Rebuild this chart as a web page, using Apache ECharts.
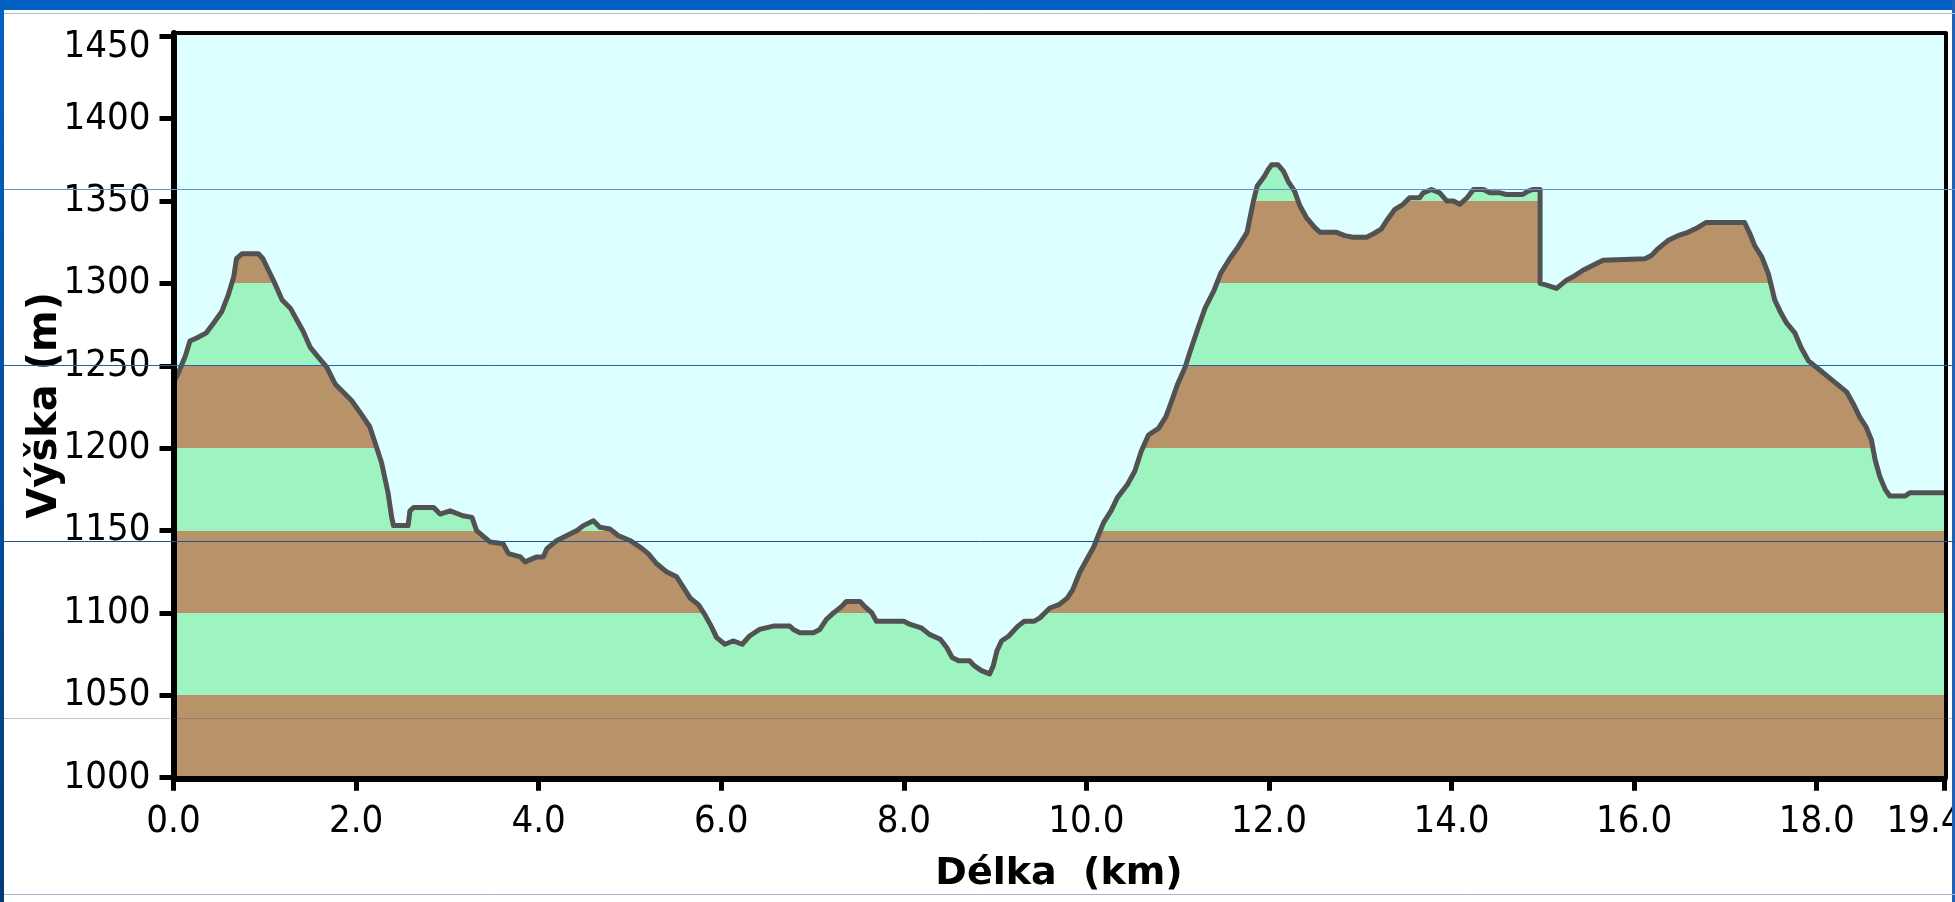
<!DOCTYPE html>
<html>
<head>
<meta charset="utf-8">
<script src="https://cdn.jsdelivr.net/npm/echarts@6/dist/echarts.min.js"></script>
<style>
html,body{margin:0;padding:0;background:#ffffff;}
#c{width:1955px;height:902px;}
</style>
</head>
<body>
<div id="c"></div>
<script>
// Distance along the route (km)
const distanceKm = [
  0,0.04,0.13,0.18,0.26,0.36,0.44,0.53,0.60,0.66,
  0.69,0.75,0.93,0.98,1.04,1.11,1.19,1.28,1.35,1.42,
  1.50,1.59,1.68,1.77,1.86,1.95,2.04,2.15,2.21,2.28,
  2.35,2.39,2.41,2.57,2.59,2.63,2.85,2.92,3.03,3.17,
  3.27,3.32,3.47,3.61,3.67,3.80,3.85,3.98,4.05,4.09,
  4.20,4.31,4.42,4.49,4.60,4.67,4.78,4.87,5.00,5.11,
  5.20,5.29,5.40,5.51,5.58,5.66,5.75,5.82,5.89,5.95,
  6.04,6.13,6.23,6.31,6.42,6.57,6.75,6.79,6.86,7.01,
  7.08,7.15,7.23,7.32,7.37,7.52,7.57,7.65,7.70,8.00,
  8.07,8.19,8.28,8.40,8.47,8.53,8.60,8.72,8.77,8.85,
  8.94,8.98,9.02,9.07,9.15,9.25,9.32,9.43,9.49,9.60,
  9.70,9.79,9.85,9.93,10.00,10.08,10.13,10.19,10.27,10.34,
  10.45,10.53,10.60,10.68,10.79,10.87,10.93,11.00,11.08,11.15,
  11.23,11.30,11.40,11.47,11.57,11.66,11.76,11.80,11.83,11.87,
  11.95,11.99,12.03,12.10,12.16,12.21,12.28,12.34,12.41,12.50,
  12.56,12.74,12.83,12.92,13.07,13.14,13.23,13.30,13.38,13.47,
  13.54,13.65,13.69,13.78,13.87,13.95,14.02,14.09,14.17,14.24,
  14.35,14.42,14.53,14.60,14.78,14.84,14.89,14.97,14.97,15.04,
  15.15,15.26,15.33,15.44,15.55,15.66,16.12,16.19,16.26,16.37,
  16.48,16.59,16.70,16.79,17.21,17.27,17.32,17.40,17.47,17.51,
  17.54,17.60,17.67,17.76,17.83,17.91,18.00,18.11,18.22,18.33,
  18.40,18.47,18.54,18.60,18.64,18.69,18.75,18.80,18.97,19.02,
  19.40
];
// Elevation (m)
const elevationM = [
  1240,1244,1256,1265,1267,1270,1276,1283,1293,1304,
  1315,1318,1318,1315,1308,1300,1290,1285,1278,1271,
  1261,1255,1249,1239,1234,1229,1222,1213,1203,1191,
  1173,1158,1153,1153,1162,1164,1164,1160,1162,1159,
  1158,1150,1143,1142,1136,1134,1131,1134,1134,1139,
  1144,1147,1150,1153,1156,1152,1151,1147,1144,1140,
  1136,1130,1125,1122,1116,1109,1105,1099,1092,1085,
  1081,1083,1081,1086,1090,1092,1092,1090,1088,1088,
  1090,1096,1100,1104,1107,1107,1104,1100,1095,1095,
  1093,1091,1087,1084,1079,1073,1071,1071,1068,1065,
  1063,1068,1077,1083,1086,1092,1095,1095,1097,1103,
  1105,1109,1114,1125,1132,1140,1147,1155,1162,1170,
  1178,1186,1198,1208,1212,1219,1228,1239,1249,1261,
  1274,1285,1296,1306,1315,1322,1331,1342,1350,1359,
  1365,1369,1372,1372,1368,1362,1356,1347,1340,1334,
  1331,1331,1329,1328,1328,1330,1333,1339,1345,1348,
  1352,1352,1355,1357,1355,1350,1350,1348,1352,1357,
  1357,1355,1355,1354,1354,1356,1357,1357,1300,1299,
  1297,1302,1304,1308,1311,1314,1315,1317,1321,1326,
  1329,1331,1334,1337,1337,1330,1323,1316,1306,1297,
  1290,1283,1276,1270,1261,1253,1249,1244,1239,1234,
  1227,1219,1213,1205,1193,1183,1175,1171,1171,1173,
  1173
];
// Axis tick labels
const xTickValues = [0,2,4,6,8,10,12,14,16,18,19.4];
const yTickValues = [1000,1050,1100,1150,1200,1250,1300,1350,1400,1450];
// Elevation bands (50 m) with alternating colours
const bandEdges = [1000,1050,1100,1150,1200,1250,1300,1350,1400,1450];
const bandColors = ['#B8936A','#9DF4C0'];

const BROWN = bandColors[0];
const profile = distanceKm.map((d, i) => [d, elevationM[i]]);
const pieces = [];
for (let i = 0; i < bandEdges.length - 1; i++) {
  pieces.push({ gte: bandEdges[i], lt: bandEdges[i + 1], color: bandColors[i % 2] });
}
const X_LAST = xTickValues[xTickValues.length - 1];
const Y_LAST = yTickValues[yTickValues.length - 1];

const LABEL_FONT = "'Liberation Sans Narrow','DejaVu Sans Condensed','Arial Narrow',sans-serif";
const TITLE_FONT = "'DejaVu Sans',sans-serif";
const LABEL_SIZE = 38;

const chart = echarts.init(document.getElementById('c'), null, { renderer: 'canvas' });

function hline(y, color) {
  return { type: 'line', z: 100, silent: true,
    shape: { x1: 4, y1: y, x2: 1955, y2: y },
    style: { stroke: color, lineWidth: 1 } };
}

chart.setOption({
  animation: false,
  backgroundColor: '#ffffff',
  grid: {
    left: 173.5, right: 10.5, top: 33, bottom: 124.3,
    show: true, backgroundColor: '#DDFFFF', borderWidth: 0,
    containLabel: false, outerBoundsMode: 'none'
  },
  visualMap: {
    type: 'piecewise', show: false, dimension: 1, seriesIndex: 0,
    pieces: pieces, outOfRange: { color: BROWN }
  },
  xAxis: [{
    type: 'value', min: 0, max: 19.4, position: 'bottom', z: 5,
    offset: 1,
    axisLine: { show: true, onZero: false, lineStyle: { color: '#000', width: 6 } },
    axisTick: { show: true, length: 12, customValues: xTickValues, lineStyle: { color: '#000', width: 5 } },
    axisLabel: {
      customValues: xTickValues, margin: 24, color: '#000', fontSize: LABEL_SIZE,
      fontFamily: LABEL_FONT,
      formatter: v => (Math.abs(v - X_LAST) < 1e-9 ? '{r|' + Number(v).toFixed(1) + '}' : Number(v).toFixed(1)),
      rich: { r: { fontSize: LABEL_SIZE, fontFamily: LABEL_FONT, color: '#000', padding: [0, 40, 0, 0] } }
    },
    splitLine: { show: false },
    name: 'Délka  (km)', nameLocation: 'middle', nameGap: 76, nameMoveOverlap: false,
    nameTextStyle: { color: '#000', fontFamily: TITLE_FONT, fontWeight: 'bold', fontSize: 38 }
  }, {
    type: 'value', min: 0, max: 19.4, position: 'top', z: 5,
    axisLine: { show: true, onZero: false, lineStyle: { color: '#000', width: 4 } },
    axisTick: { show: false }, axisLabel: { show: false }, splitLine: { show: false }
  }],
  yAxis: [{
    type: 'value', min: 1000, max: 1452, position: 'left', z: 5,
    axisLine: { show: true, onZero: false, lineStyle: { color: '#000', width: 6 } },
    axisTick: { show: true, length: 14, customValues: yTickValues, lineStyle: { color: '#000', width: 5 } },
    axisLabel: {
      customValues: yTickValues, margin: 23, color: '#000', fontSize: LABEL_SIZE,
      fontFamily: LABEL_FONT, verticalAlignMaxLabel: 'top',
      formatter: v => (v === Y_LAST ? '{t|' + v + '}' : String(v)),
      rich: { t: { fontSize: LABEL_SIZE, fontFamily: LABEL_FONT, color: '#000', lineHeight: 22 } }
    },
    splitLine: { show: false },
    name: 'Výška (m)', nameLocation: 'middle', nameGap: 108, nameMoveOverlap: false,
    nameTextStyle: { color: '#000', fontFamily: TITLE_FONT, fontWeight: 'bold', fontSize: 40 }
  }, {
    type: 'value', min: 1000, max: 1452, position: 'right', z: 5, offset: 1.5,
    axisLine: { show: true, onZero: false, lineStyle: { color: '#000', width: 4 } },
    axisTick: { show: false }, axisLabel: { show: false }, splitLine: { show: false }
  }],
  series: [{
    type: 'line', xAxisIndex: 0, yAxisIndex: 0,
    data: profile, showSymbol: false, symbol: 'none', silent: true,
    lineStyle: { color: '#525252', width: 5, join: 'round' },
    areaStyle: { opacity: 1, origin: 'start' },
    z: 2
  }],
  graphic: [
    { type: 'rect', z: 100, silent: true, shape: { x: 0, y: 0, width: 1955, height: 10 }, style: { fill: '#0061C2' } },
    { type: 'rect', z: 100, silent: true, shape: { x: 0, y: 0, width: 4, height: 902 },
      style: { fill: new echarts.graphic.LinearGradient(0, 0, 0, 1, [
        { offset: 0, color: '#0061C2' }, { offset: 1, color: '#033b78' }]) } },
    { type: 'rect', z: 100, silent: true, shape: { x: 1952, y: 0, width: 3, height: 902 }, style: { fill: '#1f63b6' } },
    hline(13.5, '#a9c1df'),
    hline(189.5, '#5f93d0'),
    hline(365.5, '#2463a6'),
    hline(541.5, '#1c5494'),
    hline(718.5, 'rgba(60,80,120,0.32)'),
    hline(894.5, '#a7b6d2')
  ]
});
</script>
</body>
</html>
